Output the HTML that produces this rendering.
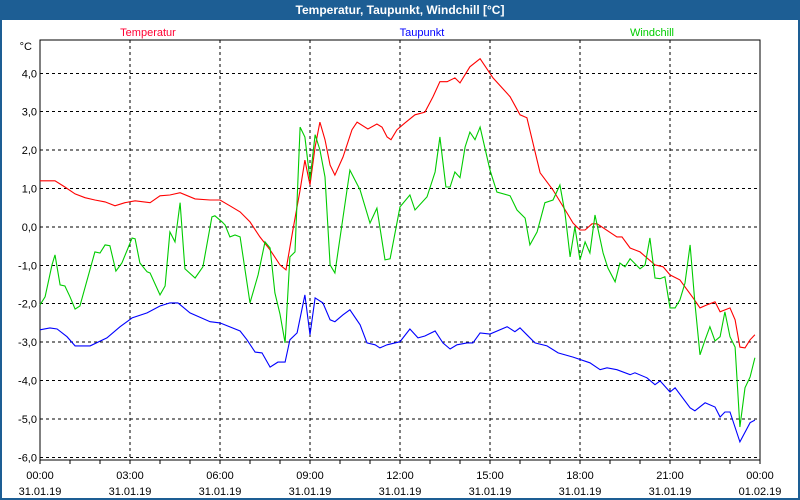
<!DOCTYPE html>
<html><head><meta charset="utf-8"><style>
html,body{margin:0;padding:0;background:#fff}
#win{position:relative;width:800px;height:500px;box-sizing:border-box;border:2px solid #1d5e94;border-top:none;background:#fff;overflow:hidden}
#title{position:absolute;left:0;top:0;width:796px;height:20px;background:#1d5e94;color:#fff;font:bold 12px "Liberation Sans",sans-serif;text-align:center;line-height:20px}
svg{position:absolute;left:-2px;top:0}
text{font-family:"Liberation Sans",sans-serif;font-size:11px}
</style></head><body>
<div id="win">
<div id="title">Temperatur, Taupunkt, Windchill [°C]</div>
<svg id="chart" width="800" height="500"></svg>
</div>
<script>
const yTicks=[4,3,2,1,0,-1,-2,-3,-4,-5,-6];
const xTickHours=[0,3,6,9,12,15,18,21,24];
const xTickTimes=["00:00","03:00","06:00","09:00","12:00","15:00","18:00","21:00","00:00"];
const xTickDates=["31.01.19","31.01.19","31.01.19","31.01.19","31.01.19","31.01.19","31.01.19","31.01.19","01.02.19"];
const tempT=[0,.5,.83,1.17,1.5,1.83,2.17,2.5,2.83,3.17,3.67,4,4.33,4.67,5.17,5.67,6,6.33,6.67,7,7.33,7.67,8,8.2,8.43,8.67,8.83,9,9.17,9.33,9.5,9.67,9.83,10.1,10.4,10.57,10.93,11.23,11.4,11.57,11.7,11.9,12.17,12.5,12.83,13.1,13.33,13.57,13.83,14,14.33,14.67,15.1,15.67,16,16.23,16.67,17.1,17.57,17.77,18,18.17,18.4,18.57,19.23,19.4,19.67,20,20.5,20.77,21,21.33,21.77,22,22.23,22.5,22.67,23,23.17,23.33,23.5,23.67,23.83];
const tempV=[1.2,1.2,1.04,.86,.76,.7,.65,.55,.63,.68,.63,.81,.83,.89,.73,.7,.7,.55,.39,.13,-.26,-.6,-.99,-1.12,-.08,.96,1.74,1.09,2.08,2.73,2.27,1.61,1.35,1.82,2.53,2.73,2.55,2.68,2.6,2.34,2.27,2.53,2.71,2.92,2.99,3.39,3.78,3.78,3.88,3.75,4.17,4.38,3.88,3.39,2.92,2.84,1.41,.96,.36,.1,-.08,-.08,.08,.08,-.26,-.26,-.55,-.65,-.99,-1.04,-1.25,-1.38,-1.85,-2.11,-2.03,-1.95,-2.21,-2.11,-2.42,-3.13,-3.15,-2.94,-2.81];
const dewT=[0,.33,.57,.9,1.17,1.67,2.23,2.67,3.07,3.57,4,4.33,4.6,5,5.67,6,6.67,6.9,7.17,7.4,7.67,7.93,8.17,8.33,8.57,8.83,9,9.17,9.43,9.67,9.83,10.1,10.33,10.67,10.9,11.17,11.33,11.57,12,12.33,12.6,12.83,13.17,13.43,13.67,13.9,14.23,14.43,14.67,15,15.57,15.83,16,16.23,16.5,16.9,17.27,17.77,18.33,18.67,18.9,19.23,19.67,19.83,20.23,20.5,20.67,21,21.17,21.67,21.83,22.17,22.5,22.67,22.83,23,23.33,23.67,23.83];
const dewV=[-2.68,-2.63,-2.66,-2.86,-3.1,-3.1,-2.89,-2.6,-2.37,-2.24,-2.06,-1.98,-1.98,-2.24,-2.47,-2.5,-2.71,-2.94,-3.26,-3.28,-3.65,-3.52,-3.52,-2.94,-2.76,-1.77,-2.81,-1.85,-1.98,-2.42,-2.47,-2.29,-2.16,-2.55,-3.02,-3.07,-3.15,-3.07,-2.99,-2.66,-2.89,-2.84,-2.71,-3.02,-3.18,-3.07,-3.02,-3.02,-2.76,-2.79,-2.6,-2.73,-2.63,-2.81,-3.02,-3.1,-3.28,-3.39,-3.54,-3.72,-3.67,-3.72,-3.85,-3.8,-3.93,-4.11,-4.01,-4.3,-4.19,-4.71,-4.79,-4.58,-4.69,-4.95,-4.82,-4.82,-5.6,-5.1,-5.03];
const windT=[0,.17,.4,.5,.67,.83,1,1.17,1.33,1.83,2,2.17,2.33,2.53,2.73,3.07,3.17,3.33,3.57,3.67,4,4.17,4.33,4.5,4.67,4.83,5.17,5.43,5.73,5.83,6.07,6.17,6.33,6.5,6.67,7,7.27,7.5,7.67,7.83,8,8.17,8.33,8.5,8.67,8.83,9,9.17,9.33,9.5,9.67,9.83,10.33,10.67,11,11.23,11.5,11.67,12,12.33,12.5,12.9,13.17,13.33,13.53,13.67,13.83,14,14.17,14.33,14.5,14.67,15,15.23,15.67,15.9,16.17,16.33,16.57,16.83,17.1,17.33,17.5,17.67,17.83,18,18.17,18.33,18.5,18.77,18.93,19.17,19.33,19.5,19.67,20,20.17,20.33,20.5,20.67,20.83,21,21.17,21.33,21.5,21.67,21.83,22,22.17,22.33,22.5,22.67,22.83,23,23.17,23.33,23.5,23.67,23.83];
const windV=[-2.03,-1.82,-.99,-.73,-1.51,-1.54,-1.82,-2.14,-2.06,-.65,-.68,-.47,-.49,-1.15,-.94,-.29,-.31,-.94,-1.17,-1.2,-1.77,-1.54,-.13,-.39,.63,-1.09,-1.33,-1.04,.26,.29,.13,.05,-.26,-.21,-.26,-1.98,-1.25,-.39,-.55,-1.72,-2.27,-3.02,-.78,-.65,2.6,2.34,1.22,2.4,2.01,1.3,-.99,-1.2,1.48,.96,.1,.49,-.86,-.83,.52,.83,.44,.78,1.43,2.34,1.04,1.04,1.43,1.28,2.08,2.47,2.27,2.6,1.48,.91,.81,.44,.23,-.47,-.13,.63,.7,1.09,.36,-.78,0,-.86,-.39,-.68,.31,-.68,-1.07,-1.43,-.94,-1.04,-.83,-1.09,-.99,-.29,-1.33,-1.35,-1.3,-2.11,-2.11,-1.9,-1.46,-.47,-1.98,-3.33,-2.94,-2.6,-2.97,-2.86,-2.21,-2.86,-3.13,-5.21,-4.19,-3.91,-3.41];

const X0=40,X1=760,Y0=40,Y1=460;
function xs(h){return X0+h*(X1-X0)/24;}
function ys(v){return 226.9-v*38.4;}
const NS="http://www.w3.org/2000/svg";
const svg=document.getElementById('chart');
function mk(tag,attrs,txt){const e=document.createElementNS(NS,tag);for(const k in attrs)e.setAttribute(k,attrs[k]);if(txt!==undefined)e.textContent=txt;svg.appendChild(e);return e;}

yTicks.forEach(v=>{
  const l=mk('line',{x1:X0,x2:X1,y1:ys(v),y2:ys(v),stroke:'#000','stroke-dasharray':'3,3','stroke-width':1,'shape-rendering':'crispEdges'});
  
  
  const t=mk('text',{x:37,y:ys(v)+4,'text-anchor':'end'},v.toFixed(1).replace('.',','));
  
  
});
xTickHours.forEach((h,i)=>{
  if(h>0&&h<24){
    const l=mk('line',{x1:xs(h),x2:xs(h),y1:Y0,y2:Y1,stroke:'#000','stroke-dasharray':'3,3','stroke-width':1,'shape-rendering':'crispEdges'});
    
    
  }
  const t1=mk('text',{x:xs(h),y:479,'text-anchor':'middle'},xTickTimes[i]);
  
  
  const t2=mk('text',{x:xs(h),y:495,'text-anchor':'middle'},xTickDates[i]);
  
  
});
for(let h=0;h<=24;h++){
  const l=mk('line',{x1:xs(h),x2:xs(h),y1:Y1,y2:Y1+4,stroke:'#000','shape-rendering':'crispEdges'});
  
  
}
const fr=mk('rect',{x:X0,y:Y0,width:X1-X0,height:Y1-Y0,fill:'none',stroke:'#000','stroke-width':1,'shape-rendering':'crispEdges'});


const u=mk('text',{x:32,y:50,'text-anchor':'end'},'°C');



function series(T,V,color,name){
  const p=mk('polyline',{points:T.map((t,i)=>xs(t).toFixed(1)+','+ys(V[i]).toFixed(1)).join(' '),fill:'none',stroke:color,'stroke-width':1.1});
  
  
}
series(tempT,tempV,'#ff0000','temperature-line');
series(windT,windV,'#00cc00','windchill-line');
series(dewT,dewV,'#0000ff','dewpoint-line');

[['Temperatur',148,'#ff0033','legend-temperatur'],['Taupunkt',422,'#0000ff','legend-taupunkt'],['Windchill',652,'#00cc00','legend-windchill']].forEach(a=>{
  const t=mk('text',{x:a[1],y:36,'text-anchor':'middle',fill:a[2]},a[0]);
  
  
});
</script>
</body></html>
